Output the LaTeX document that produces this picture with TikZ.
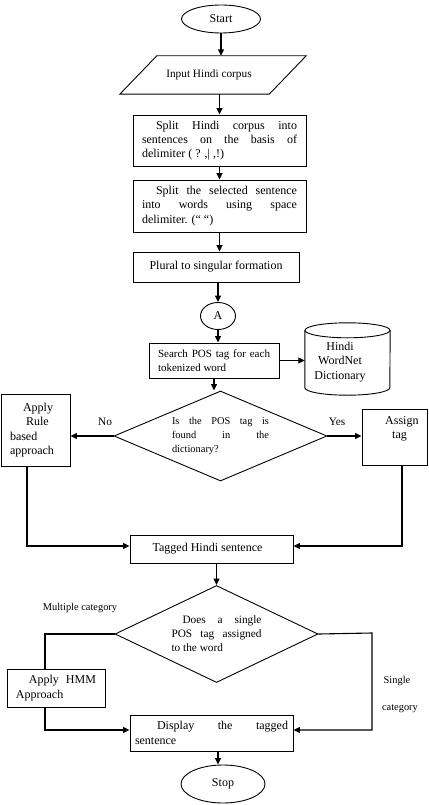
\documentclass[tikz,border=0pt]{standalone}
\usepackage{fontspec}
\setmainfont{Liberation Serif}
\usetikzlibrary{shapes.geometric,arrows.meta}
\tikzset{
  shp/.style={draw, line width=0.9pt, inner sep=0pt},
  boxs/.style={shp, rectangle},
  arr/.style={line width=1.1pt, -{Triangle[length=6.5pt,width=6pt]}},
  ln/.style={line width=1.1pt},
  outl/.style={line width=0.9pt},
  f12/.style={font=\fontsize{12}{14.3}\selectfont},
  f11/.style={font=\fontsize{11.3}{14}\selectfont},
  f10/.style={font=\fontsize{10.4}{14}\selectfont},
}
\begin{document}
\begin{tikzpicture}[x=1pt,y=-1pt]
\useasboundingbox (0,0) rectangle (428,805);
% shapes
\node[shp, ellipse, minimum width=79pt, minimum height=28pt, f12] (start) at (221,19) {Start};
\node[inner sep=0pt, minimum width=186pt, minimum height=38pt, f11] (input) at (213,75) {\hspace*{-8pt}Input Hindi corpus};
\draw[outl] (input.south west) -- ([xshift=37pt]input.north west) -- (input.north east)
  -- ([xshift=-37pt]input.south east) -- cycle;
\node[boxs, minimum width=173pt, minimum height=51pt, text width=155pt, align=justify, f12] (box1) at (219.5,140.5)
  {\hspace*{14pt}Split Hindi corpus into\linebreak sentences on the basis of\linebreak delimiter ( ? ,| ,!)};
\node[boxs, minimum width=173pt, minimum height=52pt, text width=155pt, align=justify, f12] (box2) at (219.5,206)
  {\hspace*{14pt}Split the selected sentence\linebreak into words using space\linebreak delimiter. (“ “)};
\node[boxs, minimum width=166pt, minimum height=30pt, f12] (box3) at (216,267) {Plural to singular formation};
\node[shp, ellipse, minimum width=35pt, minimum height=27pt, f12] (A) at (218,316) {A};
\node[boxs, minimum width=130pt, minimum height=35pt, text width=112pt, align=justify, font=\fontsize{11}{14}\selectfont] (box4) at (214,360.5)
  {Search POS tag for each\linebreak tokenized word};
% cylinder
\node[inner sep=0pt, minimum height=72pt, minimum width=85pt] (dict) at (347.5,359) {};
\draw[outl] ([yshift=-7.5pt]dict.north) ellipse [x radius=42.5pt, y radius=7.5pt];
\draw[outl] ([yshift=-7.5pt]dict.north west) -- ([yshift=7.5pt]dict.south west)
  arc[start angle=180, end angle=360, x radius=42.5pt, y radius=7.5pt] -- ([yshift=-7.5pt]dict.north east);
\node[f12, align=center] (dicttext) at (340,362) {Hindi\\WordNet\\Dictionary};
\node[shp, diamond, aspect=2.37, minimum width=213pt, minimum height=90pt, text width=97pt, align=justify, f10] (d1) at (220.5,436)
  {Is the POS tag is\linebreak found in the\linebreak dictionary?};
\node[boxs, minimum width=69pt, minimum height=72pt, text width=51pt, align=left, f12] (lbox) at (35.5,430)
  {\hspace*{13pt}Apply\\\hspace*{16pt}Rule\\based\\approach};
\node[boxs, minimum width=65pt, minimum height=56pt] (rbox) at (394.5,437) {};
\node[f12, align=left, anchor=north west, inner sep=0pt] (rtext) at (385,416) {Assign\\\hspace*{7pt}tag};
\node[boxs, minimum width=163pt, minimum height=28pt, f12] (tagged) at (211.5,549) {\hspace*{-8pt}Tagged Hindi sentence};
\node[shp, diamond, aspect=2.1, minimum width=203pt, minimum height=97pt, text width=90pt, align=justify, f11] (d2) at (216.5,634)
  {\hspace*{11pt}Does a single\linebreak POS tag assigned\linebreak to the word};
\node[boxs, minimum width=98pt, minimum height=38pt, text width=80pt, align=justify, f12] (hmm) at (56,688)
  {\hspace*{13pt}Apply HMM\linebreak Approach};
\node[boxs, minimum width=163pt, minimum height=36pt, text width=153pt, align=justify, f12] (disp) at (211.5,733)
  {\hspace*{22pt}Display the tagged\linebreak sentence};
\node[shp, ellipse, minimum width=84pt, minimum height=38pt, f12] (stop) at (223,784) {Stop};
% labels
\node[f11] (no) at (105,422) {No};
\node[f11] (yes) at (337,422) {Yes};
\node[f10] (multi) at (80,608) {Multiple category};
\node[f10] (single) at (397,681) {Single};
\node[f10] (cat) at (400,709) {category};
\coordinate (rc) at (372,633);
% connectors
\draw[arr] (start.south) -- (start.south |- input.north);
\draw[arr] (box1.north |- input.south) -- (box1.north);
\draw[arr] (box1.south) -- (box2.north);
\draw[arr] (box2.south) -- (box2.south |- box3.north);
\draw[arr] (A.north |- box3.south) -- (A.north);
\draw[arr] (A.south) -- (A.south |- box4.north);
\draw[arr] (box4.east) -- (box4.east -| dict.west);
\draw[arr] (box4.south) -- (box4.south |- d1.north);
\draw[arr] (d1.west) -- (d1.west -| lbox.east);
\draw[arr] (d1.east) -- (d1.east -| rbox.west);
\draw[arr] ([xshift=-8.5pt]lbox.south) |- ([yshift=3pt]tagged.west);
\draw[arr] ([xshift=7.5pt]rbox.south) |- ([yshift=3pt]tagged.east);
\draw[arr] (d2.north |- tagged.south) -- (d2.north);
\draw[ln] (d2.west) -| ([xshift=-11pt]hmm.north);
\draw[arr] ([xshift=-11pt]hmm.south) |- ([yshift=3pt]disp.west);
\draw[arr] (d2.east) -- (rc) |- ([yshift=3pt]disp.east);
\draw[arr] ([xshift=6.5pt]disp.south) -- ([xshift=6.5pt]disp.south |- stop.north);
\end{tikzpicture}
\end{document}
